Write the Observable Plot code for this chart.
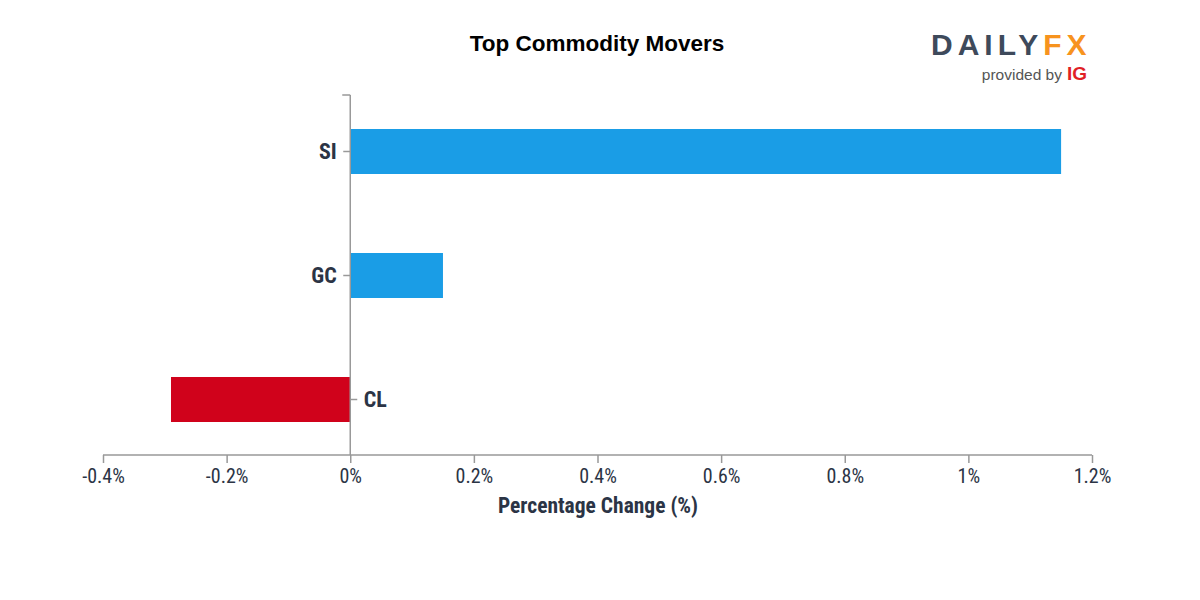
<!DOCTYPE html>
<html>
<head>
<meta charset="utf-8">
<script src="https://cdn.jsdelivr.net/npm/d3@7"></script>
<script src="https://cdn.jsdelivr.net/npm/@observablehq/plot@0.6"></script>
<style>
  html, body { margin: 0; padding: 0; background: #fff; }
  #wrap { position: relative; width: 1200px; height: 600px; overflow: hidden; }
  #header { position: relative; height: 90px; }
  #title { position: absolute; left: 0; width: 1194px; top: 31px; text-align: center;
    font: bold 22.5px "Liberation Sans", Arial, sans-serif; color: #000; }
  #logo { position: absolute; left: 931px; top: 30px; width: 156px; }
  #logo .brand { font: bold 30px "Liberation Sans", sans-serif; letter-spacing: 5px; color: #3e4a5b; line-height: 30px; height: 30px; white-space: nowrap; }
  #logo .brand span { color: #f7931e; }
  #logo .by { text-align: right; font: 15.5px "Liberation Sans", sans-serif; color: #555; margin-top: 3px; line-height: 18px; white-space: nowrap; }
  #logo .by b { color: #e01f26; font: bold 19px "Liberation Sans", sans-serif; margin-left: 5px; }
</style>
</head>
<body>
<div id="wrap">
  <div id="header">
    <div id="title">Top Commodity Movers</div>
    <div id="logo"><div class="brand">DAILY<span>FX</span></div><div class="by">provided by<b>IG</b></div></div>
  </div>
  <div id="chart"></div>
</div>
<script>
const symbols = ["SI", "GC", "CL"];
const changes = [1.15, 0.15, -0.29];
const xTicks = [-0.4, -0.2, 0, 0.2, 0.4, 0.6, 0.8, 1.0, 1.2];
const xLabel = "Percentage Change (%)";

const data = symbols.map((s, i) => ({symbol: s, change: changes[i]}));
const fontFam = '"Roboto Condensed", "Liberation Sans Narrow", "DejaVu Sans Condensed", Roboto, sans-serif';
const axisColor = "#999";
const textColor = "#2b3445";

function axisExtras(index, scales, values, dimensions) {
  const svg = d3.create("svg:g");
  const {marginLeft, marginTop, width, height, marginBottom, marginRight} = dimensions;
  const x0 = scales.x(0);
  const yBottom = height - marginBottom;
  svg.append("line").attr("x1", marginLeft).attr("x2", width - marginRight)
    .attr("y1", yBottom).attr("y2", yBottom).attr("stroke", axisColor).attr("stroke-width", 1.5);
  svg.append("line").attr("x1", x0).attr("x2", x0).attr("y1", marginTop).attr("y2", yBottom)
    .attr("stroke", axisColor).attr("stroke-width", 1.5);
  svg.append("line").attr("x1", x0 - 8).attr("x2", x0).attr("y1", marginTop).attr("y2", marginTop)
    .attr("stroke", axisColor).attr("stroke-width", 1.5);
  for (const d of data) {
    const y = scales.y(d.symbol) + scales.y.bandwidth() / 2;
    const dir = d.change >= 0 ? -1 : 1;
    svg.append("line").attr("x1", x0).attr("x2", x0 + dir * 7).attr("y1", y).attr("y2", y)
      .attr("stroke", axisColor).attr("stroke-width", 1.5);
  }
  return svg.node();
}

const plot = Plot.plot({
  width: 1200,
  height: 510,
  marginLeft: 103,
  marginRight: 108,
  marginTop: 5,
  marginBottom: 145,
  style: {fontFamily: fontFam, background: "#fff", overflow: "visible"},
  x: {domain: [-0.4, 1.2], axis: null},
  y: {domain: symbols, axis: null, paddingInner: 0.64, paddingOuter: 0.27, align: 0.5},
  marks: [
    Plot.barX(data, {x: "change", y: "symbol", fill: d => d.change >= 0 ? "#1a9de6" : "#d0021b"}),
    Plot.axisX(xTicks, {
      anchor: "bottom", tickSize: 8, stroke: axisColor, strokeWidth: 1.5, tickPadding: 5,
      tickFormat: d => `${+d.toFixed(1)}%`, fontSize: 20, fill: textColor, label: null
    }),
    axisExtras,
    Plot.text(data, {
      x: 0, y: "symbol", text: "symbol",
      textAnchor: "end",
      filter: d => d.change >= 0,
      dx: -14, fontSize: 22, fontWeight: "bold", fill: textColor
    }),
    Plot.text(data, {
      x: 0, y: "symbol", text: "symbol",
      textAnchor: "start",
      filter: d => d.change < 0,
      dx: 13, fontSize: 22, fontWeight: "bold", fill: textColor
    }),
    Plot.text([xLabel], {
      frameAnchor: "bottom", text: d => d, dy: 42, fontSize: 21.5, fontWeight: "bold", fill: textColor, lineAnchor: "top"
    })
  ]
});
document.getElementById("chart").appendChild(plot);
</script>
</body>
</html>
